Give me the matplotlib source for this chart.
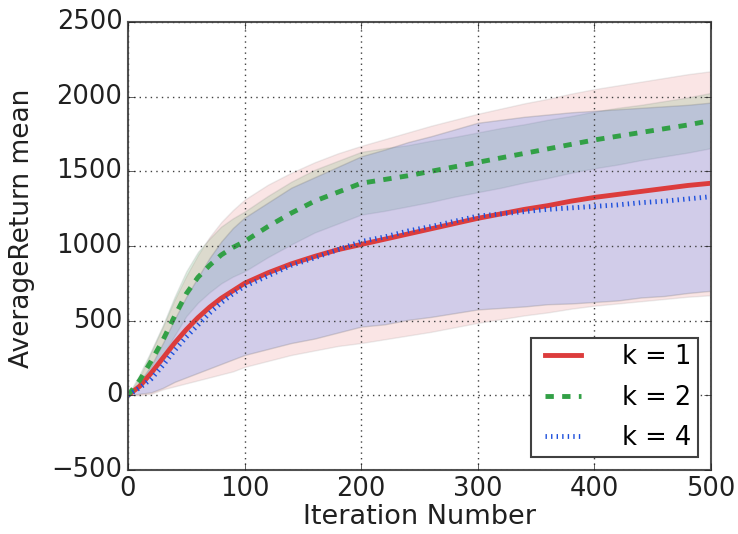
import numpy as np
import matplotlib.pyplot as plt

iters = [0, 10, 20, 30, 40, 50, 60, 70, 80, 90, 100,
         120, 140, 160, 180, 200, 220, 240, 260, 280, 300,
         320, 340, 360, 380, 400, 420, 440, 460, 480, 500]

# k = 1
mean_k1 = [0, 60, 150, 250, 350, 440, 520, 590, 650, 700, 750,
           820, 880, 930, 975, 1010, 1045, 1080, 1115, 1150, 1185,
           1215, 1245, 1270, 1300, 1325, 1345, 1365, 1385, 1405, 1420]
std_k1 = [0, 60, 140, 210, 290, 360, 420, 470, 510, 540, 560,
          590, 610, 630, 645, 660, 670, 680, 690, 695, 700,
          705, 710, 715, 720, 725, 730, 735, 740, 745, 750]

# k = 2
mean_k2 = [0, 100, 230, 370, 530, 680, 790, 870, 940, 990, 1030,
           1130, 1220, 1300, 1360, 1420, 1445, 1470, 1500, 1530, 1560,
           1590, 1620, 1650, 1680, 1710, 1735, 1760, 1785, 1810, 1840]
std_k2 = [0, 40, 70, 100, 130, 150, 170, 180, 190, 195, 200,
          205, 210, 210, 210, 210, 210, 205, 205, 200, 200,
          200, 195, 195, 190, 190, 190, 185, 185, 185, 185]

# k = 4
mean_k4 = [0, 50, 110, 200, 300, 390, 470, 550, 620, 680, 730,
           800, 870, 920, 975, 1030, 1060, 1100, 1130, 1165, 1200,
           1215, 1230, 1245, 1255, 1265, 1275, 1290, 1300, 1315, 1330]
std_k4 = [0, 40, 90, 150, 210, 270, 320, 370, 410, 440, 460,
          490, 520, 540, 555, 570, 585, 595, 605, 615, 625,
          630, 635, 635, 640, 640, 640, 635, 635, 630, 630]

labels = ['k = 1', 'k = 2', 'k = 4']
colors = ['#dc3c3c', '#32a046', '#1e50dc']
fill_colors = ['#dc3c3c', '#32a046', '#5a82f5']
fill_alpha = [0.13, 0.15, 0.25]
styles = ['-', '--', ':']

plt.style.use('classic')
fig = plt.figure(figsize=(7.38, 5.34), dpi=100, facecolor='white')
ax = fig.add_axes([0.1734, 0.1199, 0.79, 0.839])

series = [(mean_k1, std_k1), (mean_k2, std_k2), (mean_k4, std_k4)]
x = np.array(iters)
for (m, s), fc, a in zip(series, fill_colors, fill_alpha):
    m = np.array(m)
    s = np.array(s)
    ax.fill_between(x, m - s, m + s, facecolor=fc, alpha=a,
                    edgecolor='#707070', linewidth=1.0)
for (m, s), lab, c, ls in zip(series, labels, colors, styles):
    ax.plot(x, m, linestyle=ls, color=c, linewidth=3.5, label=lab)

ax.set_xlim(0, 500)
ax.set_ylim(-500, 2500)
ax.set_xticks(range(0, 501, 100))
ax.set_yticks(range(-500, 2501, 500))
ax.grid(True, linestyle=':', color='#404040', linewidth=1.0)
ax.tick_params(labelsize=18.5, direction='in', length=5, colors='#202020')
for sp in ax.spines.values():
    sp.set_color('#505050')
    sp.set_linewidth(1.5)

ax.set_xlabel('Iteration Number', fontsize=19.5, labelpad=2, color='#202020')
ax.set_ylabel('AverageReturn mean', fontsize=19, color='#202020')
ax.yaxis.set_label_coords(-0.16, 0.54)

leg = ax.legend(loc='lower right', fontsize=18.5, handlelength=2.0,
                borderpad=0.25, labelspacing=0.55, handletextpad=1.3,
                borderaxespad=0.5)
leg.get_frame().set_edgecolor('#404040')
leg.get_frame().set_linewidth(1.5)

fig.savefig('out.png', dpi=100, facecolor='white')
